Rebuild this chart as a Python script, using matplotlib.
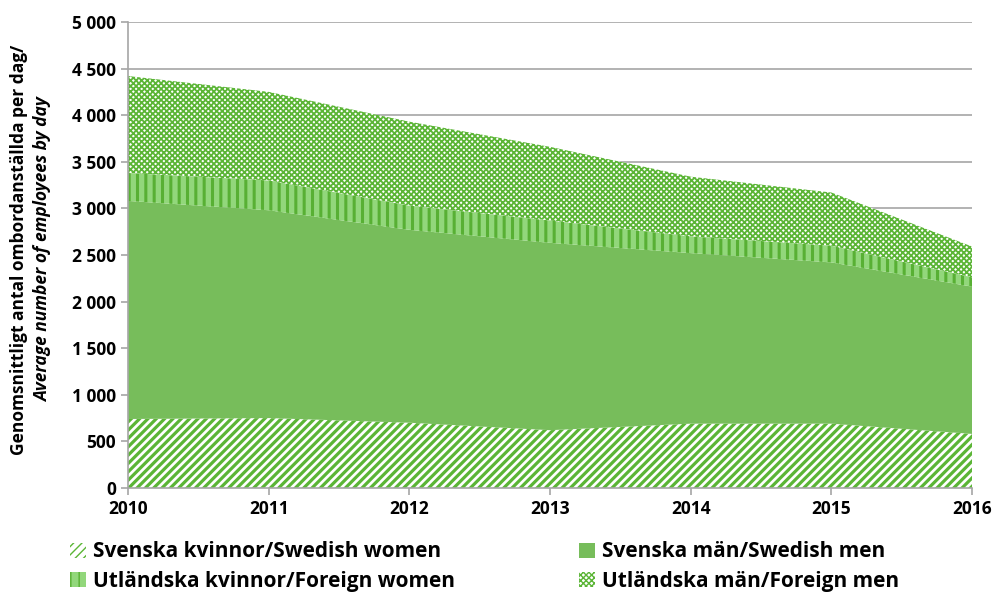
import matplotlib
matplotlib.use("Agg")
import matplotlib.pyplot as plt
import numpy as np
from matplotlib.ticker import FuncFormatter

# values (employees per day)
years = [2010, 2011, 2012, 2013, 2014, 2015, 2016]
swedish_women = [740, 750, 700, 620, 690, 690, 580]
swedish_men = [2340, 2230, 2070, 2010, 1830, 1730, 1580]
foreign_women = [300, 320, 260, 240, 180, 180, 100]
foreign_men = [1040, 950, 900, 790, 640, 570, 330]

labels = ["Svenska kvinnor/Swedish women", "Svenska män/Swedish men",
          "Utländska kvinnor/Foreign women", "Utländska män/Foreign men"]

plt.rcParams['font.family'] = ['Open Sans', 'DejaVu Sans']
plt.rcParams['font.weight'] = 'bold'

fig = plt.figure(figsize=(9.94, 5.94), dpi=100)
ax = fig.add_axes([0.1288, 0.1785, 0.978 - 0.1288, 0.963 - 0.1785])

x = np.array(years)
b0 = np.zeros(len(years))
b1 = b0 + swedish_women
b2 = b1 + swedish_men
b3 = b2 + foreign_women
b4 = b3 + foreign_men

with plt.rc_context({'hatch.linewidth': 2.3, 'hatch.color': '#5bb536'}):
    p1 = ax.fill_between(x, b0, b1, facecolor='white', edgecolor='#5bb536',
                         hatch='////', linewidth=0, label=labels[0])
p2 = ax.fill_between(x, b1, b2, facecolor='#77bd5b', linewidth=0, label=labels[1])
with plt.rc_context({'hatch.linewidth': 2.2, 'hatch.color': '#58b034'}):
    p3 = ax.fill_between(x, b2, b3, facecolor='#92d77b', edgecolor='#58b034',
                         hatch='||', linewidth=0, label=labels[2])
with plt.rc_context({'hatch.linewidth': 1.3, 'hatch.color': '#5bb536'}):
    p4 = ax.fill_between(x, b3, b4, facecolor='white', edgecolor='#5bb536',
                         hatch='xxxxxx', linewidth=0, label=labels[3])

ax.set_xlim(2010, 2016)
ax.set_ylim(0, 5000)
ax.set_yticks(np.arange(0, 5001, 500))
ax.set_xticks(years)
ax.yaxis.set_major_formatter(FuncFormatter(lambda v, p: f"{int(v):,}".replace(",", " ")))
ax.grid(axis='y', color='#a6a6a6', linewidth=1.2)
ax.set_axisbelow(True)
for s in ['top', 'right']:
    ax.spines[s].set_visible(False)
for s in ['left', 'bottom']:
    ax.spines[s].set_color('#a6a6a6')
    ax.spines[s].set_linewidth(1.2)
ax.tick_params(axis='both', colors='#a6a6a6', labelcolor='black', labelsize=12.5,
               length=5, width=1.2)
for t in ax.get_xticklabels() + ax.get_yticklabels():
    t.set_fontweight('bold')

fig.text(0.019, 0.58, "Genomsnittligt antal ombordanställda per dag/", rotation=90,
         ha='center', va='center', fontsize=12.5, fontweight='bold')
fig.text(0.043, 0.58, "Average number of employees by day", rotation=90,
         ha='center', va='center', fontsize=12.5, fontweight='bold', fontstyle='italic')

leg = fig.legend([p1, p3, p2, p4], [labels[0], labels[2], labels[1], labels[3]],
                 ncol=2, loc='upper left', bbox_to_anchor=(0.052, 0.12),
                 frameon=False, fontsize=15, handlelength=0.75, handleheight=0.75,
                 handletextpad=0.35, columnspacing=5.95, labelspacing=0.4)
for t in leg.get_texts():
    t.set_fontweight('bold')

fig.savefig("out.png", dpi=100)
